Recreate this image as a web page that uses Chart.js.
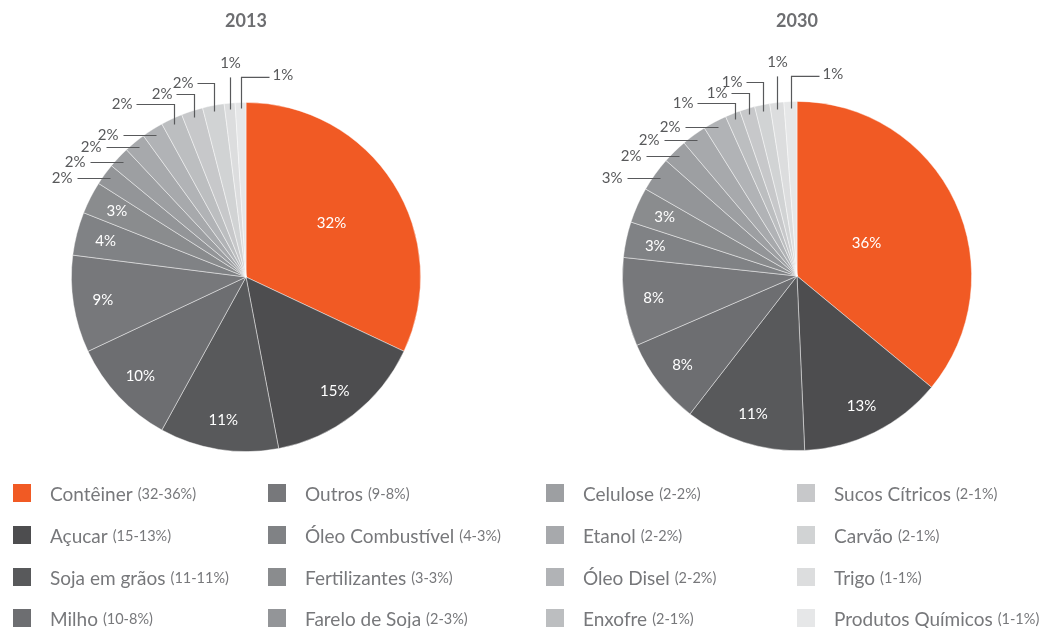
<!DOCTYPE html>
<html>
<head>
<meta charset="utf-8">
<script src="https://cdn.jsdelivr.net/npm/chart.js@4.4.0/dist/chart.umd.min.js"></script>
<style>
    body { margin: 0; width: 1050px; height: 628px; background: #fff; overflow: hidden; font-family: Lato, sans-serif; }
    canvas.pie { position: absolute; top: 0; }
    #legend { position: absolute; left: 0; top: 0; width: 1050px; height: 628px; pointer-events: none; }
    .item { position: absolute; display: flex; align-items: center; height: 20px; white-space: nowrap; color: #77787b; font-size: 19px; }
    .item i { display: inline-block; width: 18px; height: 18px; margin-right: 19px; }
    .item small { font-size: 14.5px; margin-left: 5px; }
</style>
</head>
<body>
<canvas id="pie2013" class="pie" width="525" height="470" style="left:0"></canvas>
<canvas id="pie2030" class="pie" width="525" height="470" style="left:525px"></canvas>
<div id="legend"></div>
<script>
const categories = [
    'Contêiner', 'Açucar', 'Soja em grãos', 'Milho',
    'Outros', 'Óleo Combustível', 'Fertilizantes', 'Farelo de Soja',
    'Celulose', 'Etanol', 'Óleo Disel', 'Enxofre',
    'Sucos Cítricos', 'Carvão', 'Trigo', 'Produtos Químicos'
];
const values2013 = [32, 15, 11, 10, 9, 4, 3, 2, 2, 2, 2, 2, 2, 2, 1, 1];
const values2030 = [36, 13.3, 11.2, 8, 8.2, 3.3, 3.3, 3.2, 2.3, 2.3, 2.2, 1.4, 1.4, 1.4, 1.3, 1.2];
const colors = [
    '#f15a24', '#4d4d4f', '#58595b', '#6d6e71',
    '#77787b', '#808285', '#8a8c8e', '#939598',
    '#9d9fa2', '#a7a9ac', '#b1b3b6', '#bcbec0',
    '#c7c8ca', '#d1d3d4', '#dcddde', '#e6e7e8'
];

// fatias a partir daqui levam rótulo externo com linha
const OUTSIDE_FROM = 7;
const leaderKinds = ['h', 'h', 'h', 'h', 'el', 'el', 'el', 'v', 'er'];
const elbowLevels = [2, -8, -19];
const elbowLengths = [38, 18, 17];

const pieLabels = {
    id: 'pieLabels',
    afterDatasetsDraw(chart, args, opts) {
        const ctx = chart.ctx;
        const meta = chart.getDatasetMeta(0);
        const data = chart.data.datasets[0].data;
        const cx = meta.data[0].x, cy = meta.data[0].y, R = meta.data[0].outerRadius;
        const top = cy - R;

        ctx.save();
        ctx.font = 'bold 18px Lato';
        ctx.fillStyle = '#6d6e71';
        ctx.textAlign = 'center';
        ctx.textBaseline = 'middle';
        ctx.fillText(opts.title, cx, 21);

        ctx.font = '15px Lato';
        ctx.strokeStyle = '#58595b';
        ctx.lineWidth = 1.2;
        meta.data.forEach((arc, i) => {
            const mid = (arc.startAngle + arc.endAngle) / 2;
            const txt = Math.round(data[i]) + '%';
            if (i < OUTSIDE_FROM) {
                const r = R * (i === 0 ? opts.bigLabel : 0.83);
                ctx.fillStyle = '#fff';
                ctx.textAlign = 'center';
                ctx.fillText(txt, cx + Math.cos(mid) * r, cy + Math.sin(mid) * r);
                return;
            }
            const k = i - OUTSIDE_FROM;
            const px = Math.round(cx + Math.cos(mid) * (R - 6)) + 0.5;
            const py = Math.round(cy + Math.sin(mid) * (R - 6)) + 0.5;
            ctx.fillStyle = '#58595b';
            ctx.beginPath();
            ctx.moveTo(px, py);
            const kind = leaderKinds[k];
            if (kind === 'h') {
                ctx.lineTo(px - 33, py);
                ctx.textAlign = 'right';
                ctx.fillText(txt, px - 38, py);
            } else if (kind === 'el') {
                const ly = Math.round(top + elbowLevels[k - 4]) + 0.5;
                const len = elbowLengths[k - 4];
                ctx.lineTo(px, ly);
                ctx.lineTo(px - len, ly);
                ctx.textAlign = 'right';
                ctx.fillText(txt, px - len - 4, ly);
            } else if (kind === 'v') {
                ctx.lineTo(px, top - 25);
                ctx.textAlign = 'center';
                ctx.fillText(txt, px, top - 39);
            } else {
                ctx.lineTo(px, top - 25);
                ctx.lineTo(px + 28, top - 25);
                ctx.textAlign = 'left';
                ctx.fillText(txt, px + 31, top - 27);
            }
            ctx.stroke();
        });
        ctx.restore();
    }
};

function makePie(id, values, title, padding, bigLabel) {
    return new Chart(document.getElementById(id), {
        type: 'pie',
        data: {
            labels: categories,
            datasets: [{
                data: values,
                backgroundColor: colors,
                borderColor: 'rgba(255,255,255,0.55)',
                borderWidth: 0.8
            }]
        },
        options: {
            responsive: false,
            animation: false,
            layout: { padding: padding },
            plugins: {
                legend: { display: false },
                tooltip: { enabled: false },
                pieLabels: { title: title, bigLabel: bigLabel }
            }
        },
        plugins: [pieLabels]
    });
}

makePie('pie2013', values2013, '2013', { left: 71, right: 104, top: 102, bottom: 18 }, 0.58);
makePie('pie2030', values2030, '2030', { left: 97, right: 78, top: 101, bottom: 19 }, 0.44);

// legenda em 4 colunas
const colX = [13, 268, 546, 797];
const rowY = [493, 535, 577, 618];
const legend = document.getElementById('legend');
categories.forEach((name, i) => {
    const c = Math.floor(i / 4), r = i % 4;
    const el = document.createElement('div');
    el.className = 'item';
    el.style.left = colX[c] + 'px';
    el.style.top = (rowY[r] - 10) + 'px';
    el.innerHTML = `<i style="background:${colors[i]}"></i>${name}<small>(${Math.round(values2013[i])}-${Math.round(values2030[i])}%)</small>`;
    legend.appendChild(el);
});
</script>
</body>
</html>
